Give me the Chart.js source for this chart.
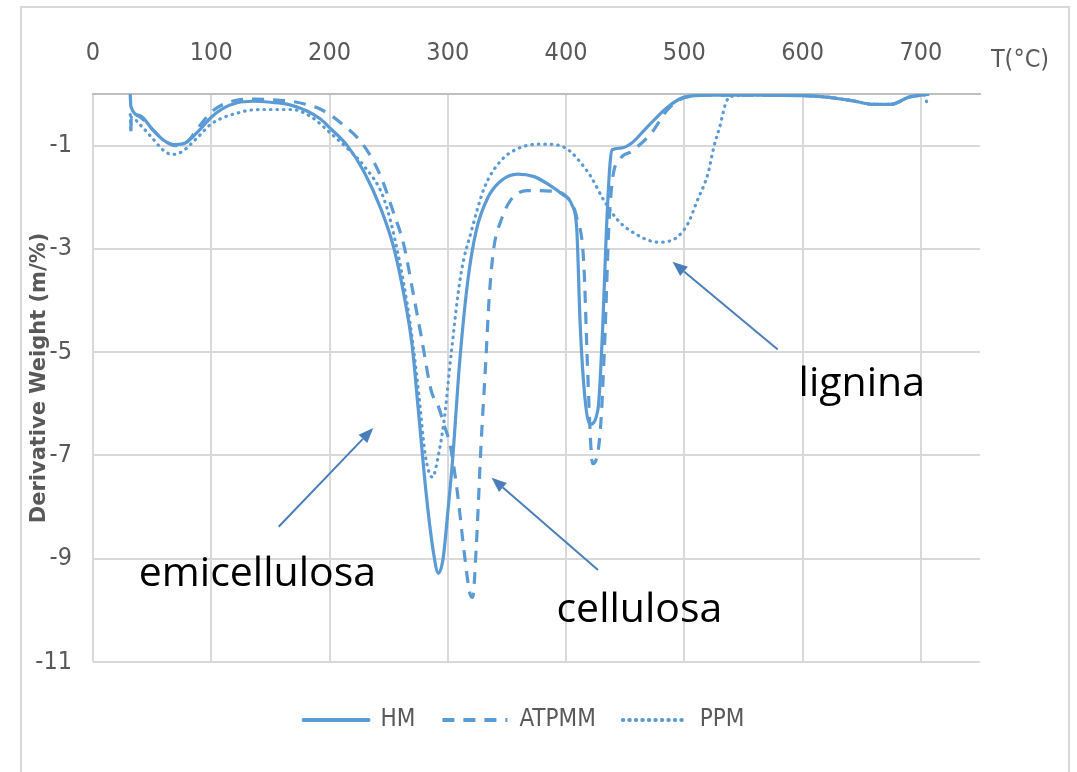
<!DOCTYPE html>
<html><head><meta charset="utf-8">
<script src="https://cdn.jsdelivr.net/npm/chart.js@4.4.1/dist/chart.umd.min.js"></script>
<style>
html,body{margin:0;padding:0;background:#fff;}
#wrap{position:relative;width:1077px;height:772px;overflow:hidden;}
#frame{position:absolute;left:20px;top:6px;width:1050px;height:800px;border:2px solid #d9d9d9;box-sizing:border-box;pointer-events:none;}
canvas{position:absolute;left:0;top:0;}
</style></head><body>
<div id="wrap"><canvas id="c" width="1077" height="772"></canvas><div id="frame"></div></div>
<script>
// ---- data ----
const xTicks = [0, 100, 200, 300, 400, 500, 600, 700];
const yTicks = [-11, -9, -7, -5, -3, -1];
const seriesNames = ['HM', 'ATPMM', 'PPM'];

const hmT = [31.5, 32, 40, 50, 60, 70, 78, 90, 100, 110, 122, 135, 150, 165, 180, 192, 200, 215, 229, 243, 254, 263, 270, 275, 282, 288, 292, 296, 300, 304, 310, 317, 324, 334, 345, 359, 373, 385, 396, 405, 409, 412, 416, 420, 427, 431, 434, 437, 439, 446, 455, 469, 486, 500, 520, 560, 600, 620, 642, 660, 675, 690, 706];
const hmW = [-0.02, -0.24, -0.42, -0.68, -0.9, -0.98, -0.95, -0.7, -0.45, -0.28, -0.17, -0.14, -0.16, -0.2, -0.32, -0.48, -0.65, -1.0, -1.5, -2.2, -2.95, -3.9, -4.9, -6.1, -7.8, -8.9, -9.28, -9.0, -8.1, -7.1, -5.2, -3.6, -2.65, -2.0, -1.68, -1.55, -1.6, -1.75, -1.93, -2.15, -2.6, -4.5, -5.9, -6.4, -6.1, -4.5, -2.7, -1.4, -1.08, -1.05, -0.96, -0.63, -0.25, -0.06, -0.02, -0.02, -0.03, -0.06, -0.13, -0.2, -0.2, -0.06, -0.01];

const atT = [32, 32.5, 40, 50, 60, 70, 80, 90, 100, 110, 122, 135, 150, 167, 180, 192, 209, 229, 243, 254, 263, 270, 278, 286, 292, 297, 302, 308, 314, 319, 321, 324, 328, 332, 335, 339, 345, 353, 367, 387, 401, 409, 415, 418, 421, 422.5, 429, 433, 436, 439, 446, 455, 472, 486, 500, 520, 560, 600, 620, 642, 660, 675, 690, 706];
const atW = [-0.72, -0.38, -0.45, -0.68, -0.9, -1.0, -0.92, -0.62, -0.35, -0.2, -0.12, -0.1, -0.11, -0.14, -0.2, -0.29, -0.55, -1.0, -1.58, -2.29, -2.94, -3.77, -4.75, -5.75, -6.05, -6.42, -6.8, -7.7, -8.9, -9.7, -9.75, -8.8, -6.84, -5.23, -3.94, -2.97, -2.45, -2.06, -1.87, -1.88, -2.0, -2.39, -3.29, -5.2, -6.84, -7.16, -6.5, -4.6, -2.65, -1.7, -1.25, -1.12, -0.76, -0.3, -0.07, -0.02, -0.02, -0.03, -0.06, -0.13, -0.2, -0.2, -0.06, -0.01];

const ppT = [31.5, 32, 32.5, 40, 50, 60, 67, 75, 88, 100, 111, 122, 134, 150, 168, 185, 200, 215, 229, 246, 257, 268, 275, 281, 287, 292, 297, 303, 311, 320, 331, 345, 359, 378, 395, 404, 413, 421, 432, 444, 458, 472, 480, 494, 503, 511, 520, 525, 530, 535, 539, 560, 600, 620, 642, 660, 675, 690, 703, 705];
const ppW = [-0.4, -0.68, -0.45, -0.6, -0.85, -1.1, -1.17, -1.12, -0.85, -0.58, -0.45, -0.37, -0.31, -0.3, -0.3, -0.45, -0.74, -1.05, -1.39, -2.03, -3.0, -4.42, -5.71, -7.0, -7.42, -7.0, -6.3, -5.0, -3.5, -2.65, -1.81, -1.29, -1.06, -0.97, -1.0, -1.12, -1.35, -1.6, -2.06, -2.45, -2.7, -2.85, -2.87, -2.77, -2.51, -2.06, -1.54, -1.02, -0.63, -0.18, -0.05, -0.02, -0.03, -0.06, -0.13, -0.2, -0.2, -0.06, -0.02, -0.16];

// annotations (data coordinates: temperature, weight)
const annoLabels = ['emicellulosa', 'cellulosa', 'lignina'];
const annoTextT = [139, 462, 650];
const annoTextW = [-9.31, -9.99, -5.63];
const arrowFromT = [157, 427, 579];
const arrowFromW = [-8.38, -9.22, -4.95];
const arrowToT = [237, 337, 490];
const arrowToW = [-6.47, -7.43, -3.25];
const axisUnit = 'T(°C)';
const yTitle = 'Derivative Weight (m/%)';

// ---- styles ----
const LINE = '#5b9bd5';
const GRAY = '#595959';
const GRID = '#d9d9d9';
const TICKFONT = "'Liberation Sans Narrow','DejaVu Sans Condensed','Roboto Condensed','Open Sans',sans-serif";

const pts = (T, W) => T.map((t, i) => ({x: t, y: W[i]}));

const annoPlugin = {
  id: 'anno',
  afterLayout(chart) {
    const lg = chart.legend;
    if (lg) { lg.left += 34; lg.right += 34; }
  },
  afterDatasetsDraw(chart) {
    const {ctx, scales: {x, y}, chartArea} = chart;
    ctx.save();
    ctx.strokeStyle = '#4a7ebb';
    ctx.fillStyle = '#4a7ebb';
    ctx.lineWidth = 2;
    for (let i = 0; i < annoLabels.length; i++) {
      const x1 = x.getPixelForValue(arrowFromT[i]), y1 = y.getPixelForValue(arrowFromW[i]);
      const x2 = x.getPixelForValue(arrowToT[i]), y2 = y.getPixelForValue(arrowToW[i]);
      const ang = Math.atan2(y2 - y1, x2 - x1);
      const hl = 15, hw = 6;
      const bx = x2 - hl * Math.cos(ang), by = y2 - hl * Math.sin(ang);
      ctx.beginPath(); ctx.moveTo(x1, y1); ctx.lineTo(bx, by); ctx.stroke();
      ctx.beginPath();
      ctx.moveTo(x2, y2);
      ctx.lineTo(bx + hw * Math.sin(ang), by - hw * Math.cos(ang));
      ctx.lineTo(bx - hw * Math.sin(ang), by + hw * Math.cos(ang));
      ctx.closePath(); ctx.fill();
    }
    ctx.fillStyle = '#000';
    ctx.font = "41px 'Open Sans', sans-serif";
    ctx.textAlign = 'center'; ctx.textBaseline = 'middle';
    for (let i = 0; i < annoLabels.length; i++) {
      ctx.fillText(annoLabels[i], x.getPixelForValue(annoTextT[i]), y.getPixelForValue(annoTextW[i]));
    }
    ctx.fillStyle = GRAY;
    ctx.font = "25px " + TICKFONT;
    ctx.fillText(axisUnit, chartArea.right + 40, 60);
    ctx.restore();
  }
};

new Chart(document.getElementById('c'), {
  type: 'line',
  data: {
    datasets: [
      {label: seriesNames[0], data: pts(hmT, hmW), borderColor: LINE, backgroundColor: LINE, borderWidth: 3.2, pointRadius: 0, pointStyle: 'line', cubicInterpolationMode: 'monotone', borderCapStyle: 'round'},
      {label: seriesNames[1], data: pts(atT, atW), borderColor: LINE, backgroundColor: LINE, borderWidth: 3.2, borderDash: [12, 9], pointRadius: 0, pointStyle: 'line', cubicInterpolationMode: 'monotone', borderCapStyle: 'butt'},
      {label: seriesNames[2], data: pts(ppT, ppW), borderColor: LINE, backgroundColor: LINE, borderWidth: 3.2, borderDash: [0.5, 6], pointRadius: 0, pointStyle: 'line', cubicInterpolationMode: 'monotone', borderCapStyle: 'round'}
    ]
  },
  options: {
    responsive: false,
    animation: false,
    devicePixelRatio: 1,
    layout: {padding: {left: 0, right: 97, top: 0, bottom: 30}},
    scales: {
      x: {
        type: 'linear', position: 'top', min: 0, max: 750,
        afterBuildTicks: s => { s.ticks = xTicks.map(v => ({value: v})); },
        afterFit: s => { s.height = 94; },
        grid: {color: GRID, lineWidth: 2, drawTicks: false},
        border: {display: true, color: '#bfbfbf', width: 2},
        ticks: {color: GRAY, font: {family: TICKFONT, size: 25}, padding: 26, maxRotation: 0}
      },
      y: {
        min: -11, max: 0,
        afterBuildTicks: s => { s.ticks = yTicks.map(v => ({value: v})); },
        afterFit: s => { s.width = 93; },
        grid: {color: GRID, lineWidth: 2, drawTicks: false},
        border: {display: false},
        ticks: {color: GRAY, font: {family: TICKFONT, size: 25}, padding: 21},
        title: {display: true, text: yTitle, color: GRAY, font: {family: "'DejaVu Sans',sans-serif", size: 21, weight: 'bold'}, padding: {top: 27, bottom: 0}}
      }
    },
    plugins: {
      legend: {
        position: 'bottom',
        title: {display: true, text: '', font: {size: 10}, padding: {top: 7, bottom: 0}},
        labels: {
          usePointStyle: true, pointStyleWidth: 65, boxHeight: 22, padding: 27, color: GRAY,
          font: {family: TICKFONT, size: 24},
          generateLabels(chart) {
            const items = Chart.defaults.plugins.legend.labels.generateLabels(chart);
            items.forEach(it => {
              const ds = chart.data.datasets[it.datasetIndex];
              it.lineDash = ds.borderDash || [];
              it.lineCap = ds.borderCapStyle;
              it.lineWidth = 4;
              it.strokeStyle = ds.borderColor;
              it.pointStyle = 'line';
            });
            return items;
          }
        }
      },
      tooltip: {enabled: false}
    }
  },
  plugins: [annoPlugin]
});
</script>
</body></html>
